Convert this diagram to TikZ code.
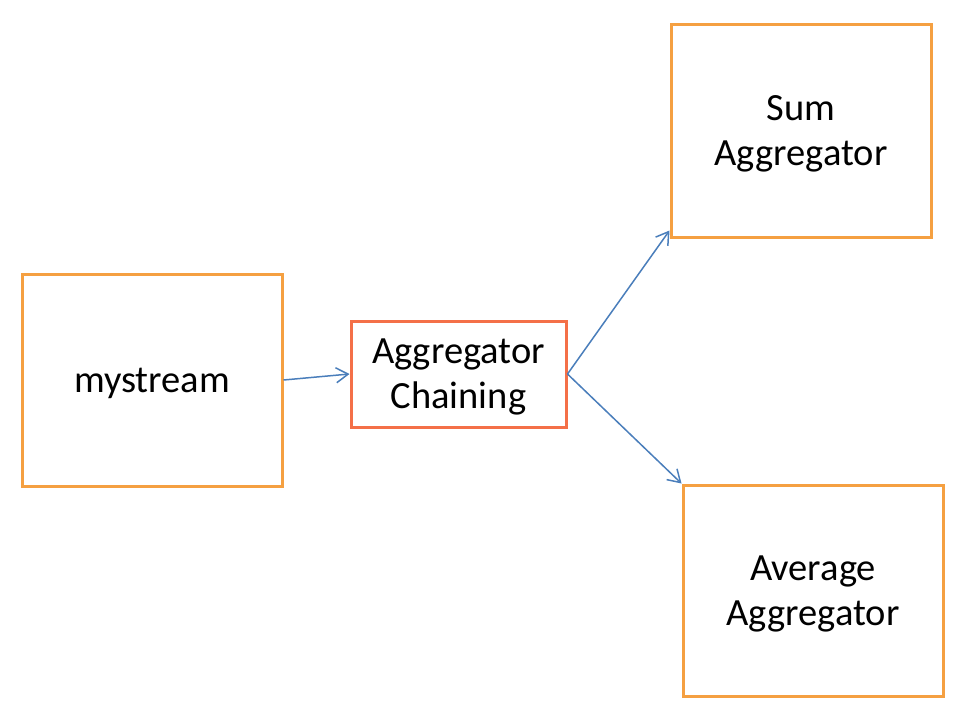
\documentclass[tikz,border=0pt]{standalone}
\usepackage{fontspec}
\setmainfont{Carlito}
\usetikzlibrary{arrows.meta}
\definecolor{boxorange}{HTML}{F5A041}
\definecolor{boxred}{HTML}{F47048}
\definecolor{arrowblue}{HTML}{4A7EBB}
\tikzset{
  box/.style={draw=boxorange, line width=3pt, fill=white, inner sep=0pt},
  boxtext/.style={yshift=-3pt, align=center, inner sep=0pt, font=\fontsize{38.5}{45}\selectfont},
  link/.style={draw=arrowblue, line width=1.5pt, -{Straight Barb[length=12pt,width=15pt,line width=1.5pt]}}
}
\begin{document}
\begin{tikzpicture}[x=1pt,y=-1pt]
\useasboundingbox (0,0) rectangle (963,723);
\node[box, minimum width=260pt, minimum height=212pt,
  label={[boxtext]center:mystream}] (ms) at (152,380) {};
\node[box, draw=boxred, minimum width=215pt, minimum height=106pt,
  label={[boxtext]center:Aggregator\\Chaining}] (ch) at (458.5,374) {};
\node[box, minimum width=260pt, minimum height=213pt,
  label={[boxtext]center:Sum\\Aggregator}] (sum) at (801,130.5) {};
\node[box, minimum width=260pt, minimum height=211pt,
  label={[boxtext]center:Average\\Aggregator}] (avg) at (813,590.5) {};
\draw[link] (ms.east) -- (ch.west);
\draw[link] (ch.east) -- ([yshift=8pt]sum.south west);
\draw[link] (ch.east) -- (avg.north west);
\end{tikzpicture}
\end{document}
